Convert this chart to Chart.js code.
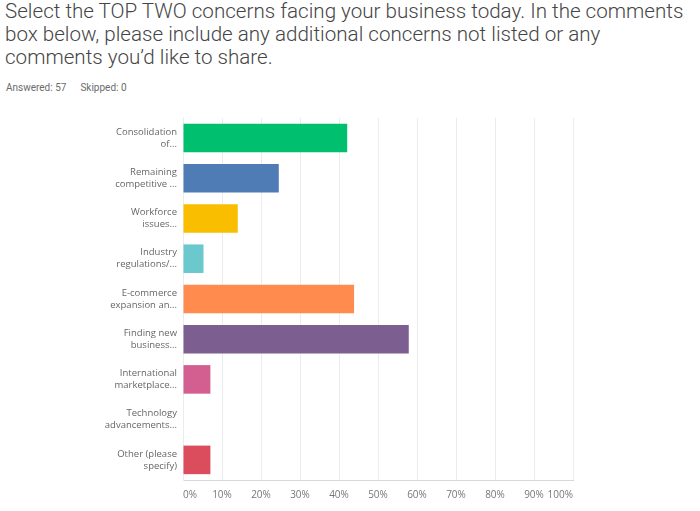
<!DOCTYPE html>
<html>
<head>
<meta charset="utf-8">
<script src="https://cdn.jsdelivr.net/npm/chart.js@4"></script>
<style>
body{margin:0;background:#fff;width:700px;height:511px;overflow:hidden;position:relative;font-family:Roboto,"Open Sans",sans-serif;}
#title{position:absolute;left:5px;top:0px;width:695px;font-size:20.6px;font-weight:300;line-height:23px;color:#454545;white-space:nowrap;}
#meta{position:absolute;left:6px;top:82px;font-size:10px;color:#6b6b6b;}
#meta span{margin-right:14px;}
#wrap{position:absolute;left:0;top:100px;width:700px;height:411px;}
</style>
</head>
<body>
<div id="title">Select the TOP TWO concerns facing your business today. In the comments<br>box below, please include any additional concerns not listed or any<br>comments you’d like to share.</div>
<div id="meta"><span>Answered: 57</span><span>Skipped: 0</span></div>
<div id="wrap"><canvas id="concernsChart"></canvas></div>
<script>
const categories = [
    ["Consolidation", "of..."],
    ["Remaining", "competitive ..."],
    ["Workforce", "issues..."],
    ["Industry", "regulations/..."],
    ["E-commerce", "expansion an..."],
    ["Finding new", "business..."],
    ["International", "marketplace..."],
    ["Technology", "advancements..."],
    ["Other (please", "specify)"]
];

const percents = [42.11, 24.56, 14.04, 5.26, 43.86, 57.89, 7.02, 0, 7.02];

const barColors = [
    "#00BF6F",
    "#507CB6",
    "#F9BE00",
    "#6BC8CD",
    "#FF8B4F",
    "#7D5E90",
    "#D25F90",
    "#A0A0A0",
    "#DB4D5C"
];

const tickValues = [0, 10, 20, 30, 40, 50, 60, 70, 80, 90, 100];

const ctx =
document.getElementById("concernsChart");

new Chart(ctx,{
    type:"bar",
    data:{
        labels:categories,
        datasets:[{
            data:percents,
            backgroundColor:barColors,
            borderWidth:0,
            barPercentage:0.71,
            categoryPercentage:1
        }]
    },
    options:{
        indexAxis:"y",
        responsive:true,
        maintainAspectRatio:false,
        animation:false,
        layout:{
            padding:{top:12,right:127,bottom:0,left:0}
        },
        plugins:{
            legend:{display:false},
            tooltip:{enabled:false}
        },
        scales:{
            x:{
                min:0,
                max:100,
                afterBuildTicks:(axis)=>{
                    axis.ticks = tickValues.map(v=>({value:v}));
                },
                afterFit:(axis)=>{ axis.height = 31; },
                ticks:{
                    color:"#777",
                    padding:9,
                    align:"inner",
                    font:{family:"Open Sans",size:10},
                    callback:(v)=>v + "%"
                },
                grid:{
                    color:"#ececec",
                    drawTicks:false
                },
                border:{color:"#d8d8d8"}
            },
            y:{
                afterFit:(axis)=>{ axis.width = 183; },
                ticks:{
                    color:"#666",
                    padding:6,
                    font:{family:"Open Sans",size:9.5,lineHeight:1.25}
                },
                grid:{display:false,drawTicks:false},
                border:{color:"#ececec"}
            }
        }
    }
});
</script>
</body>
</html>
